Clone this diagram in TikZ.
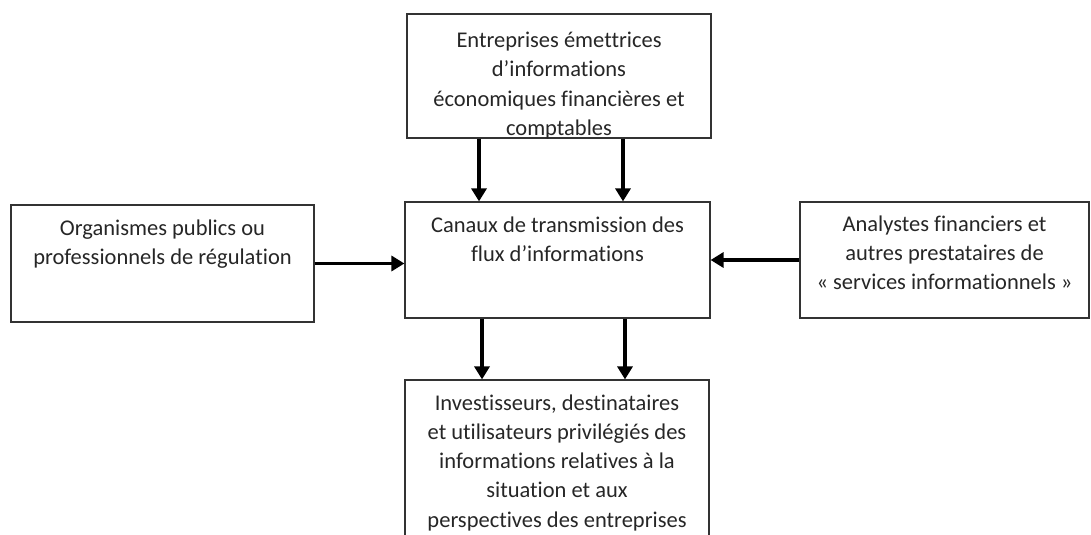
\documentclass[tikz,border=0pt]{standalone}
\usepackage{fontspec}
\setmainfont{Carlito}[Ligatures=NoCommon]
\usetikzlibrary{positioning,arrows.meta}

\begin{document}
\begin{tikzpicture}[x=0.02cm, y=-0.02cm,
        box/.style={draw=black!80, line width=0.7pt, inner sep=0pt},
        lbl/.style={align=center, inner sep=0pt, text=black!85,
            font=\fontsize{12.8pt}{16.6pt}\selectfont},
        flow/.style={->, line width=2pt},
        >={Triangle[length=0.26cm, width=0.3cm]}]
        \useasboundingbox (0,0) rectangle (1091,534);
        \node[box, minimum width=6.08cm, minimum height=2.48cm] (src) at (559,76) {};
        \node[box, minimum width=6.1cm, minimum height=2.32cm] (flux) at (557.5,260) {};
        \node[box, minimum width=6.06cm, minimum height=2.34cm] (org) at (162.5,263.5) {};
        \node[box, minimum width=5.78cm, minimum height=2.32cm] (ana) at (944.5,260) {};
        \node[box, minimum width=6.08cm, minimum height=3.6cm] (inv) at (557,470) {};
        \node[lbl, below=0.37cm of src.north] (srctxt) {Entreprises émettrices\\d’informations\\économiques financières et\\comptables};
        \node[lbl, below=0.3cm of flux.north] (fluxtxt) {Canaux de transmission des\\flux d’informations};
        \node[lbl, below=0.3cm of org.north] (orgtxt) {Organismes publics ou\\professionnels de régulation};
        \node[lbl, below=0.28cm of ana.north] (anatxt) {Analystes financiers et\\autres prestataires de\\« services informationnels »};
        \node[lbl, below=0.3cm of inv.north] (invtxt) {Investisseurs, destinataires\\et utilisateurs privilégiés des\\informations relatives à la\\situation et aux\\perspectives des entreprises};
        \draw[flow] ([xshift=-1.6cm]src.south) -- ([xshift=-1.6cm]src.south |- flux.north);
        \draw[flow] ([xshift=1.28cm]src.south) -- ([xshift=1.28cm]src.south |- flux.north);
        \draw[flow] (org.east) -- (org.east -| flux.west);
        \draw[flow] (ana.west) -- (ana.west -| flux.east);
        \draw[flow] ([xshift=-1.51cm]flux.south) -- ([xshift=-1.51cm]flux.south |- inv.north);
        \draw[flow] ([xshift=1.35cm]flux.south) -- ([xshift=1.35cm]flux.south |- inv.north);
\end{tikzpicture}
\end{document}
